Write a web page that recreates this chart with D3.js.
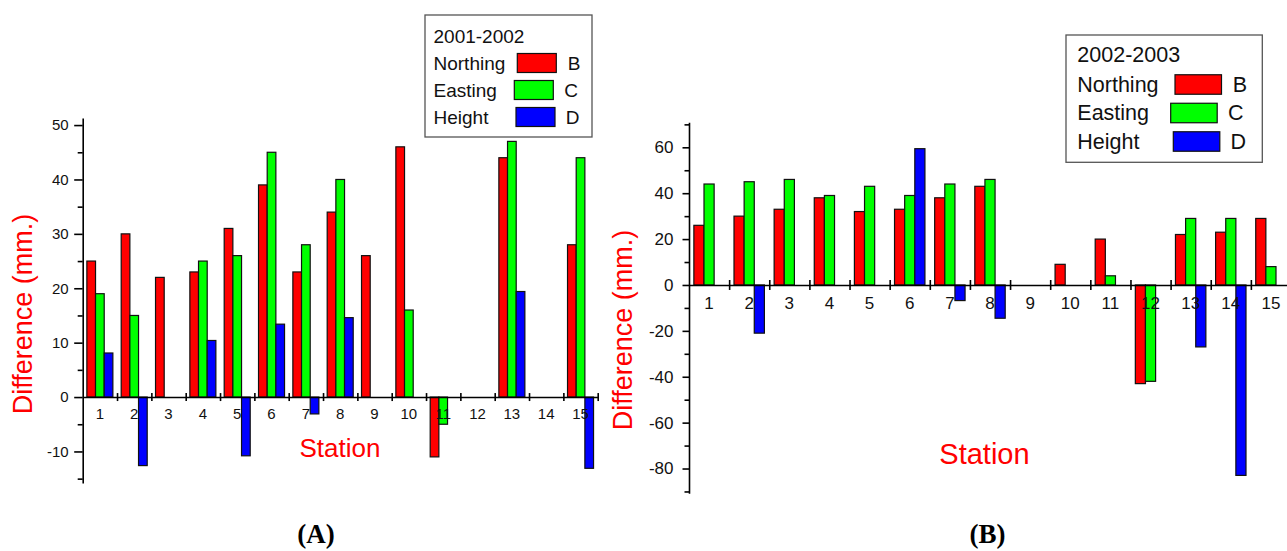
<!DOCTYPE html>
<html>
<head>
<meta charset="utf-8">
<script src="https://cdn.jsdelivr.net/npm/d3@7"></script>
<style>
  body { margin: 0; background: #fff; }
  svg { display: block; font-family: 'Liberation Sans', Arial, sans-serif; }
</style>
</head>
<body>
<svg id="chart" width="1287" height="551"></svg>
<script>
const stations = ['1', '2', '3', '4', '5', '6', '7', '8', '9', '10', '11', '12', '13', '14', '15'];
const seriesKeys = ['B', 'C', 'D'];
const seriesNames = ['Northing', 'Easting', 'Height'];

// 2001-2002 (null = no bar)
const northingA = [25, 30, 22, 23, 31, 39, 23, 34, 26, 46, -11, null, 44, null, 28];
const eastingA = [19, 15, null, 25, 26, 45, 28, 40, null, 16, -5, null, 47, null, 44];
const heightA = [8.1, -12.6, null, 10.4, -10.8, 13.4, -3.1, 14.6, null, null, null, null, 19.4, null, -13.1];

// 2002-2003
const northingB = [26, 30, 33, 38, 32, 33, 38, 43, null, 9, 20, -43, 22, 23, 29];
const eastingB = [44, 45, 46, 39, 43, 39, 44, 46, null, null, 4, -42, 29, 29, 8];
const heightB = [null, -21, null, null, null, 59.4, -6.8, -14.5, null, null, null, null, -27, -83, null];

const yTicksA = [-10, 0, 10, 20, 30, 40, 50];
const yMinorA = [-15, -5, 5, 15, 25, 35, 45];
const yTicksB = [-80, -60, -40, -20, 0, 20, 40, 60];
const yMinorB = [-90, -70, -50, -30, -10, 10, 30, 50, 70];

const colors = ['#ff0000', '#00ff00', '#0000ff'];

let svg = d3.select('#chart');

function drawPanel(p) {
  let g = svg.append('g');

  let x = d3.scaleBand()
    .domain(stations)
    .range(p.xRange)
    .padding(0);

  let sub = d3.scaleBand()
    .domain(seriesKeys)
    .range([0, x.bandwidth()])
    .paddingInner(0)
    .paddingOuter(0.48);

  let y = d3.scaleLinear()
    .domain(p.yDomain)
    .range(p.yRange);

  // bars
  seriesKeys.forEach((k, i) => {
    let rows = p.values[i]
      .map((v, j) => ({ station: stations[j], v: v }))
      .filter(d => d.v !== null);
    g.append('g')
      .attr('fill', colors[i])
      .attr('stroke', '#111')
      .attr('stroke-width', 1.2)
      .selectAll('rect').data(rows).join('rect')
      .attr('x', d => x(d.station) + sub(k))
      .attr('y', d => y(Math.max(0, d.v)))
      .attr('width', sub.bandwidth())
      .attr('height', d => Math.abs(y(d.v) - y(0)));
  });

  // y axis, major + minor ticks (plain hyphen minus like the original)
  let yAxis = g.append('g')
    .attr('transform', `translate(${p.xRange[0]},0)`)
    .call(d3.axisLeft(y).tickValues(p.yTicks).tickFormat(d => String(d))
      .tickSize(p.majorTick).tickPadding(p.tickPad).tickSizeOuter(0));
  yAxis.attr('font-size', null).attr('font-family', null);
  yAxis.selectAll('text').attr('font-size', p.tickFont).attr('fill', '#111');
  yAxis.selectAll('line, path').attr('stroke', '#000').attr('stroke-width', 1.6);

  let yMinor = g.append('g')
    .attr('transform', `translate(${p.xRange[0]},0)`)
    .call(d3.axisLeft(y).tickValues(p.yMinor).tickSize(p.minorTick).tickFormat(''));
  yMinor.select('.domain').remove();
  yMinor.selectAll('line').attr('stroke', '#000').attr('stroke-width', 1.6);

  // x axis at zero, ticks between stations
  let xl = d3.scaleLinear().domain([0, stations.length]).range(p.xRange);
  let xAxis = g.append('g')
    .attr('transform', `translate(0,${y(0)})`)
    .call(d3.axisBottom(xl).tickValues(d3.range(1, stations.length + 1)).tickFormat('').tickSizeOuter(0));
  xAxis.selectAll('.tick line').attr('y1', -p.xTick).attr('y2', p.xTick);
  xAxis.selectAll('line, path').attr('stroke', '#000').attr('stroke-width', 1.6);

  let xLabels = g.append('g')
    .attr('transform', `translate(0,${y(0)})`)
    .call(d3.axisBottom(x).tickSize(0).tickPadding(p.xPad));
  xLabels.select('.domain').remove();
  xLabels.attr('font-size', null).attr('font-family', null);
  xLabels.selectAll('text').attr('font-size', p.tickFont).attr('fill', '#111');

  // axis titles
  g.append('text')
    .attr('transform', `translate(${p.yTitle[0]},${p.yTitle[1]}) rotate(-90)`)
    .attr('text-anchor', 'middle')
    .attr('dominant-baseline', 'central')
    .attr('fill', '#ff0000')
    .attr('font-size', 27)
    .text('Difference (mm.)');

  g.append('text')
    .attr('x', p.xTitle[0])
    .attr('y', p.xTitle[1])
    .attr('text-anchor', 'middle')
    .attr('fill', '#ff0000')
    .attr('font-size', p.xTitleFont)
    .text('Station');

  // legend
  let L = p.legend;
  let lg = svg.append('g').attr('transform', `translate(${L.x},${L.y})`);
  lg.append('rect')
    .attr('width', L.w).attr('height', L.h)
    .attr('fill', '#fff').attr('stroke', '#555').attr('stroke-width', 1.3);
  lg.append('text')
    .attr('x', L.textX).attr('y', L.titleY)
    .attr('dominant-baseline', 'central')
    .attr('font-size', L.font).attr('fill', '#111')
    .text(p.period);
  seriesNames.forEach((name, i) => {
    let cy = L.rowY + i * L.rowGap;
    lg.append('text')
      .attr('x', L.textX).attr('y', cy)
      .attr('dominant-baseline', 'central')
      .attr('font-size', L.font).attr('fill', '#111')
      .text(name);
    lg.append('rect')
      .attr('x', L.swX + L.shift[i]).attr('y', cy - L.swH / 2)
      .attr('width', L.swW).attr('height', L.swH)
      .attr('fill', colors[i]).attr('stroke', '#111').attr('stroke-width', 1.2);
    lg.append('text')
      .attr('x', L.keyX + L.shift[i]).attr('y', cy)
      .attr('text-anchor', 'middle')
      .attr('dominant-baseline', 'central')
      .attr('font-size', L.font).attr('fill', '#111')
      .text(seriesKeys[i]);
  });

  // panel tag
  svg.append('text')
    .attr('x', p.tag[0]).attr('y', p.tag[1])
    .attr('text-anchor', 'middle')
    .attr('font-family', "'Liberation Serif', 'Times New Roman', serif")
    .attr('font-weight', 'bold')
    .attr('font-size', 27)
    .text(p.tagText);
}

drawPanel({
  values: [northingA, eastingA, heightA],
  period: '2001-2002',
  xRange: [82.7, 597.7],
  yDomain: [-15.8, 51.3],
  yRange: [483, 118],
  yTicks: yTicksA,
  yMinor: yMinorA,
  majorTick: 8.5,
  minorTick: 5,
  tickPad: 5.5,
  tickFont: 15,
  xTick: 4,
  xPad: 11.5,
  yTitle: [23, 314],
  xTitle: [340, 456.5],
  xTitleFont: 26,
  tag: [316, 543],
  tagText: '(A)',
  legend: {
    x: 425, y: 15, w: 167, h: 122,
    textX: 8.5, titleY: 21.7, rowY: 48, rowGap: 27,
    font: 19, swX: 92.3, swW: 39, swH: 19, keyX: 149, shift: [0, -3, -1.3]
  }
});

drawPanel({
  values: [northingB, eastingB, heightB],
  period: '2002-2003',
  xRange: [689, 1291],
  yDomain: [-90.8, 70.9],
  yRange: [493.3, 122.3],
  yTicks: yTicksB,
  yMinor: yMinorB,
  majorTick: 6.5,
  minorTick: 4.5,
  tickPad: 9,
  tickFont: 17,
  xTick: 5,
  xPad: 12,
  yTitle: [623, 330],
  xTitle: [984.5, 464.3],
  xTitleFont: 29,
  tag: [987.5, 543],
  tagText: '(B)',
  legend: {
    x: 1066, y: 35, w: 196.3, h: 127.3,
    textX: 11.3, titleY: 20, rowY: 49.5, rowGap: 28.5,
    font: 21.5, swX: 109, swW: 46.5, swH: 19.5, keyX: 174, shift: [0, -4.3, -1.7]
  }
});
</script>
</body>
</html>
